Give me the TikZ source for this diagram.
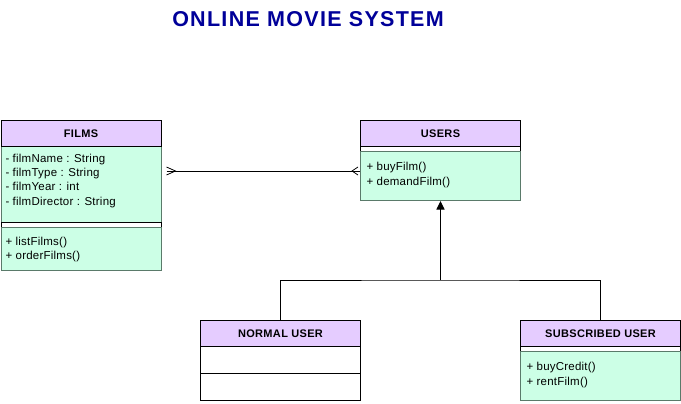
\documentclass[tikz,border=0pt]{standalone}
\usepackage{fontspec}
\setmainfont{Liberation Sans}
\usetikzlibrary{arrows.meta}
\definecolor{hdrfill}{HTML}{E5CCFF}
\definecolor{compfill}{HTML}{CCFFE6}
\definecolor{compdraw}{HTML}{5A7A6A}
\definecolor{titleblue}{HTML}{000099}
\newfontfamily\bodyfont[LetterSpace=2]{Liberation Sans}
\newfontfamily\hdrfont[LetterSpace=3]{Liberation Sans Bold}
\newfontfamily\titlefont[LetterSpace=6]{Liberation Sans Bold}
\begin{document}
\begin{tikzpicture}[x=1pt,y=-1pt,line width=1pt,
  hdr/.style={draw=black,fill=hdrfill,minimum width=160pt,minimum height=26pt,inner sep=0pt,anchor=north west,font=\hdrfont\fontsize{11}{13}\selectfont},
  comp/.style={draw=compdraw,fill=compfill,minimum width=160pt,inner sep=0pt,anchor=north west},
  blank/.style={draw=black,fill=white,minimum width=160pt,inner sep=0pt,anchor=north west},
  txt/.style={inner sep=0pt,anchor=west,align=left,font=\bodyfont\fontsize{11.5}{14.4}\selectfont},
  band/.style={draw=black,fill=white,minimum width=160pt,minimum height=5pt,inner sep=0pt,anchor=north west}]
\useasboundingbox (0,0) rectangle (681,404);
\node[font=\titlefont\fontsize{21.5}{24}\selectfont,text=titleblue,inner sep=0pt] (title) at (308,19) {ONLINE MOVIE SYSTEM};
% FILMS
\node[comp,minimum height=76pt] (filmsA) at (0.5,146) {};
\node[band] (filmsB) at (0.5,222) {};
\node[comp,minimum height=43pt] (filmsM) at (0.5,227) {};
\node[hdr] (filmsH) at (0.5,120) {FILMS};
\node[txt] (filmsAt) at (5,180.7) {- filmName : String\\- filmType : String\\- filmYear : int\\- filmDirector : String};
\node[txt] (filmsMt) at (5,249.5) {+ listFilms()\\+ orderFilms()};
% USERS
\node[band] (usersB) at (360,146) {};
\node[comp,minimum height=49pt] (usersM) at (360,151) {};
\node[hdr] (usersH) at (360,120) {USERS};
\node[txt] (usersMt) at (366,175.2) {+ buyFilm()\\+ demandFilm()};
% NORMAL USER
\node[blank,minimum height=27pt] (normalA) at (200,346) {};
\node[blank,minimum height=27pt] (normalM) at (200,373) {};
\node[hdr] (normalH) at (200,320) {NORMAL USER};
% SUBSCRIBED USER
\node[band] (subB) at (520,346) {};
\node[comp,minimum height=49pt] (subM) at (520,351) {};
\node[hdr] (subH) at (520,320) {SUBSCRIBED USER};
\node[txt] (subMt) at (526,375) {+ buyCredit()\\+ rentFilm()};
% association films - users
\coordinate (aL) at (filmsA.east |- 0,171);
\coordinate (aR) at (usersM.west |- 0,171);
\draw ([xshift=5pt]aL) -- (aR);
\draw[line width=0.8pt] ([xshift=5pt,yshift=-4pt]aL) -- ([xshift=14pt]aL) -- ([xshift=5pt,yshift=4pt]aL);
\draw[line width=0.8pt] ([xshift=-2pt,yshift=-4pt]aR) -- ([xshift=-8pt]aR) -- ([xshift=-2pt,yshift=4pt]aR);
% generalization
\coordinate (g) at (usersM.south |- 0,280);
\draw (normalH.north) |- (g) -| (subH.north);
\draw[-{Triangle[width=8pt,length=8.5pt]}] (g) -- (usersM.south);
\end{tikzpicture}
\end{document}
